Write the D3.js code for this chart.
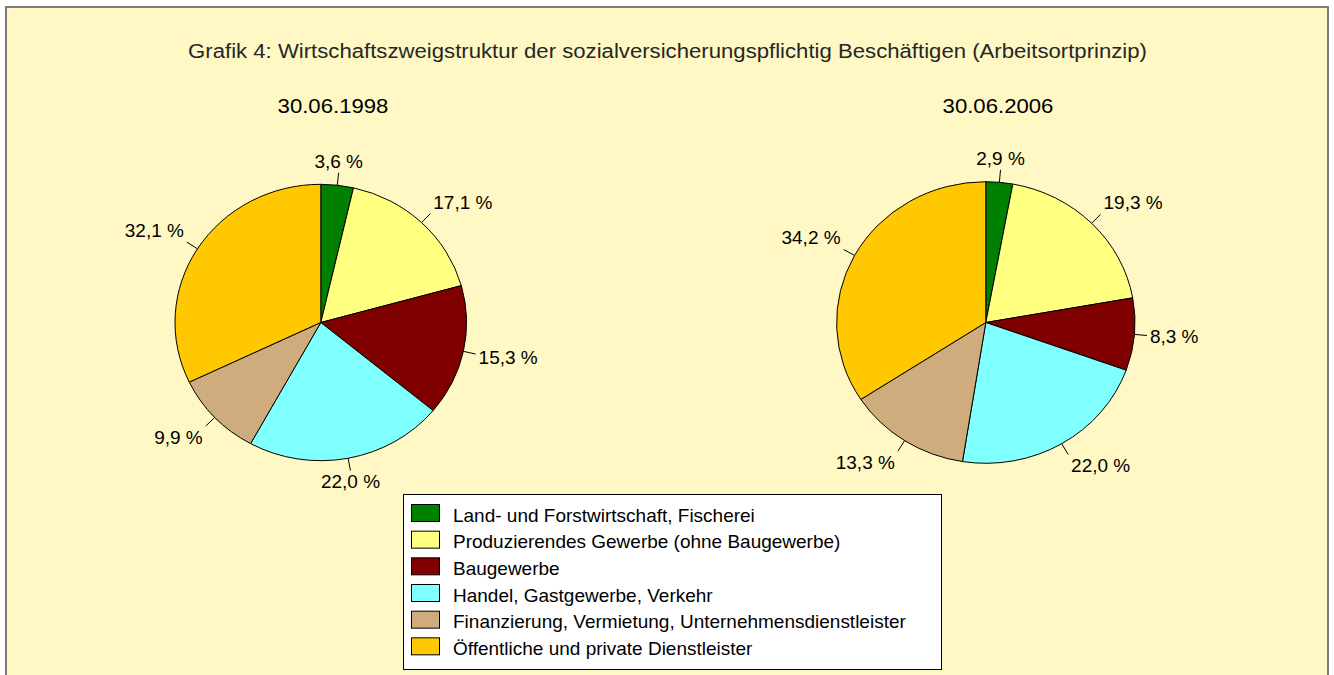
<!DOCTYPE html>
<html>
<head>
<meta charset="utf-8">
<script src="https://cdn.jsdelivr.net/npm/d3@7"></script>
<style>
  body { margin: 0; background: #fff; }
  svg { display: block; font-family: "Liberation Sans", Arial, sans-serif; }
</style>
</head>
<body>
<div id="chart"></div>
<script>
const width = 1334;
const height = 675;

const title = 'Grafik 4: Wirtschaftszweigstruktur der sozialversicherungspflichtig Beschäftigen (Arbeitsortprinzip)';
const categories = [
	'Land- und Forstwirtschaft, Fischerei',
	'Produzierendes Gewerbe (ohne Baugewerbe)',
	'Baugewerbe',
	'Handel, Gastgewerbe, Verkehr',
	'Finanzierung, Vermietung, Unternehmensdienstleister',
	'Öffentliche und private Dienstleister'
];
const colors = ['#008000', '#ffff80', '#800000', '#80ffff', '#cfac7e', '#ffc800'];
const dates = ['30.06.1998', '30.06.2006'];
const values1998 = [3.6, 17.1, 15.3, 22.0, 9.9, 32.1];
const values2006 = [2.9, 19.3, 8.3, 22.0, 13.3, 34.2];

// the original is a bit stretched horizontally (pies are ellipses), text too
const stretch = 1.055;

const pies = [
	{ date: dates[0], values: values1998, cx: 320.8, cy: 322.5, rx: 145.8, ry: 138.2, titleX: 333 },
	{ date: dates[1], values: values2006, cx: 985.8, cy: 322.5, rx: 149.2, ry: 140.8, titleX: 998 }
];

const fmt = v => d3.format('.1f')(v).replace('.', ',') + ' %';
const labelSize = 18;
const leader = 12.5;

const svg = d3.select('#chart').append('svg')
	.attr('width', width)
	.attr('height', height);

function addText(parent, x, y, size, str, anchor) {
	return parent.append('text')
		.attr('transform', `translate(${x}, ${y}) scale(${stretch}, 1)`)
		.attr('text-anchor', anchor || 'start')
		.style('font-size', size + 'px')
		.text(str);
}

svg.append('rect')
	.attr('x', 6).attr('y', 7)
	.attr('width', 1322).attr('height', 700)
	.attr('fill', '#fff8c4')
	.attr('stroke', '#7a7a7a')
	.attr('stroke-width', 2);

addText(svg, 667.5, 58, 21, title, 'middle').attr('fill', '#262626');

const pie = d3.pie().sort(null).value(d => d);

pies.forEach(p => {
	addText(svg, p.titleX, 113, 21, p.date, 'middle');

	const arc = d3.arc().innerRadius(0).outerRadius(p.ry);
	const g = svg.append('g')
		.attr('transform', `translate(${p.cx}, ${p.cy}) scale(${p.rx / p.ry}, 1)`);

	const arcs = pie(p.values);
	g.selectAll('path')
		.data(arcs)
		.enter()
		.append('path')
		.attr('d', arc)
		.attr('fill', (d, i) => colors[i])
		.attr('stroke', '#000')
		.attr('stroke-width', 1)
		.attr('vector-effect', 'non-scaling-stroke');

	const lg = svg.append('g').attr('transform', `translate(${p.cx}, ${p.cy})`);
	arcs.forEach(d => {
		const a = (d.startAngle + d.endAngle) / 2;
		const s = Math.sin(a), c = Math.cos(a);
		const x0 = s * p.rx, y0 = -c * p.ry;
		const x1 = x0 + s * leader, y1 = y0 - c * leader;

		lg.append('line')
			.attr('x1', x0).attr('y1', y0)
			.attr('x2', x1).attr('y2', y1)
			.attr('stroke', '#000')
			.attr('stroke-width', 1);

		const t = addText(lg, 0, 0, labelSize, fmt(d.data), 'middle');
		const w = t.node().getComputedTextLength() * stretch;
		const h = labelSize * 0.716;
		const sx = Math.abs(s) < 0.25 ? 0 : Math.sign(s);
		const sy = Math.abs(c) < 0.25 ? c * 1.5 : Math.sign(c);
		const tx = x1 + sx * (w / 2 + 3);
		const ty = y1 - sy * (h / 2 + 5);
		t.attr('transform', `translate(${tx}, ${ty + h / 2}) scale(${stretch}, 1)`);
	});
});

// legend
const legend = svg.append('g').attr('transform', 'translate(403, 494)');
legend.append('rect')
	.attr('x', 0.5).attr('y', 0.5)
	.attr('width', 538).attr('height', 175)
	.attr('fill', '#fff')
	.attr('stroke', '#000')
	.attr('stroke-width', 1);

const rowY = d3.scaleBand()
	.domain(categories)
	.range([8, 168]);

categories.forEach((name, i) => {
	const row = legend.append('g')
		.attr('transform', `translate(0, ${rowY(name)})`);
	row.append('rect')
		.attr('x', 8.5).attr('y', 2.5)
		.attr('width', 28).attr('height', 17)
		.attr('fill', colors[i])
		.attr('stroke', '#000');
	addText(row, 50, 19.5, 18, name);
});
</script>
</body>
</html>
